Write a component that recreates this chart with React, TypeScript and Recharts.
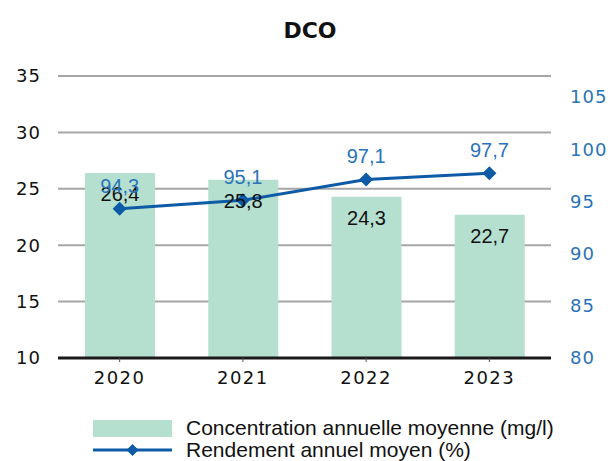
import { ComposedChart, Bar, Line, XAxis, YAxis, CartesianGrid, LabelList, Legend } from "recharts"

const years = ["2020", "2021", "2022", "2023"]
const concentration = [26.4, 25.8, 24.3, 22.7]
const rendement = [94.3, 95.1, 97.1, 97.7]
const leftTicks = [10, 15, 20, 25, 30, 35]
const rightTicks = [80, 85, 90, 95, 100, 105]

const data = years.map((year, i) => ({
  year,
  concentration: concentration[i],
  rendement: rendement[i],
}))

const fmt = (v: any) => Number(v).toFixed(1).replace(".", ",")

const BAR_COLOR = "#b5e0d0"
const LINE_COLOR = "#0d5aa7"
const TICK_BLUE = "#2a73b8"
const TICK_FONT = "'DejaVu Sans', Verdana, sans-serif"
const LABEL_FONT = "'Liberation Sans', Arial, sans-serif"

function LegendContent() {
  return (
    <div style={{ fontFamily: LABEL_FONT, fontSize: 21, color: "#111", lineHeight: "22px", whiteSpace: "nowrap" }}>
      <div style={{ display: "flex", alignItems: "center" }}>
        <span style={{ display: "inline-block", width: 79, height: 17, background: BAR_COLOR, marginRight: 14 }} />
        Concentration annuelle moyenne (mg/l)
      </div>
      <div style={{ display: "flex", alignItems: "center" }}>
        <svg width={79} height={14} style={{ marginRight: 14 }}>
          <line x1={0} y1={7} x2={79} y2={7} stroke={LINE_COLOR} strokeWidth={3} />
          <polygon points="39.5,1 45.5,7 39.5,13 33.5,7" fill={LINE_COLOR} />
        </svg>
        Rendement annuel moyen (%)
      </div>
    </div>
  )
}

export default function App() {
  return (
    <div style={{ position: "absolute", top: 0, left: 0, width: 613, height: 461, background: "#fff", overflow: "hidden" }}>
      <div
        style={{
          position: "absolute",
          top: 18,
          left: 0,
          width: 620,
          textAlign: "center",
          fontFamily: "'DejaVu Sans', Tahoma, sans-serif",
          fontWeight: "bold",
          fontSize: 22,
          color: "#111",
        }}
      >
        DCO
      </div>
      <ComposedChart width={613} height={461} data={data} margin={{ top: 76, right: 0, bottom: 73, left: 0 }}>
        <CartesianGrid vertical={false} stroke="#a6a6a6" strokeWidth={2} yAxisId="left" />
        <XAxis
          dataKey="year"
          height={30}
          axisLine={{ stroke: "#1a1a1a", strokeWidth: 3 }}
          tickLine={{ stroke: "#555", strokeWidth: 1 }}
          tickSize={4}
          tickMargin={9}
          tick={{ fill: "#111", fontSize: 18, fontFamily: TICK_FONT, letterSpacing: 1.5 }}
        />
        <YAxis
          yAxisId="left"
          width={58}
          domain={[10, 35]}
          ticks={leftTicks}
          axisLine={false}
          tickLine={false}
          tickSize={0}
          tickMargin={17}
          tick={{ fill: "#111", fontSize: 18, fontFamily: TICK_FONT, letterSpacing: 1 }}
        />
        <YAxis
          yAxisId="right"
          orientation="right"
          width={62}
          domain={[80, 107]}
          ticks={rightTicks}
          axisLine={false}
          tickLine={false}
          tickSize={0}
          tickMargin={19}
          tick={{ fill: TICK_BLUE, fontSize: 18, fontFamily: TICK_FONT, letterSpacing: 1 }}
        />
        <Legend
          layout="vertical"
          align="center"
          verticalAlign="middle"
          wrapperStyle={{ top: 417, left: 93, width: 520 }}
          content={<LegendContent />}
        />
        <Bar yAxisId="left" dataKey="concentration" fill={BAR_COLOR} barSize={70} isAnimationActive={false}>
          <LabelList
            dataKey="concentration"
            position="insideTop"
            offset={14}
            formatter={fmt}
            fill="#111"
            fontSize={20}
            fontFamily={LABEL_FONT}
          />
        </Bar>
        <Line
          yAxisId="right"
          dataKey="rendement"
          stroke={LINE_COLOR}
          strokeWidth={3}
          dot={(p: any) => (
            <polygon
              key={p.index}
              points={`${p.cx},${p.cy - 7} ${p.cx + 7},${p.cy} ${p.cx},${p.cy + 7} ${p.cx - 7},${p.cy}`}
              fill={LINE_COLOR}
            />
          )}
          isAnimationActive={false}
        >
          <LabelList
            dataKey="rendement"
            position="top"
            offset={16}
            formatter={fmt}
            fill={TICK_BLUE}
            fontSize={20}
            fontFamily={LABEL_FONT}
          />
        </Line>
      </ComposedChart>
    </div>
  )
}
